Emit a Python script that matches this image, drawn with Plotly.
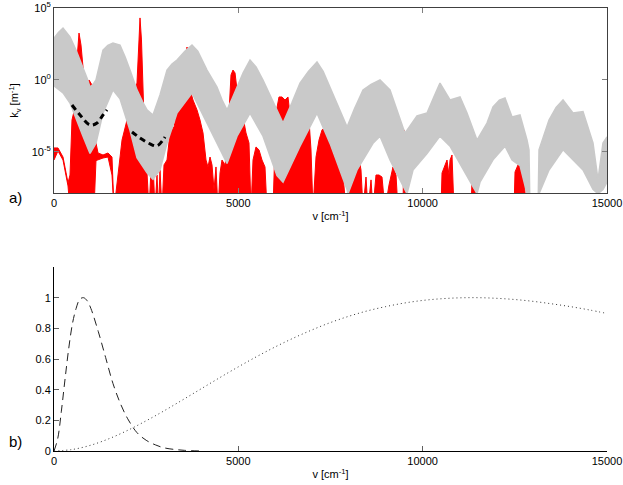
import plotly.graph_objects as go

# ---------------- panel a) data (log10 of k_v, read from picture) ----------------
gray_up_v = [0, 120, 244, 330, 434, 597, 787, 900, 977, 1060, 1139, 1240, 1329, 1460, 1600, 1790, 1930, 2061,
             2251, 2400, 2523, 2685, 2875, 3065, 3200, 3336, 3550, 3743, 3900, 4150, 4421, 4560, 4693, 4830,
             4964, 5130, 5317, 5480, 5669, 6049, 6212, 6450, 6673, 6900, 7134, 7300, 7487, 7720, 7948, 8150,
             8382, 8600, 8843, 9114, 9300, 9520, 9846, 10118, 10300, 10470, 10742, 11013, 11203, 11474, 11745,
             11908, 12080, 12233, 12425, 12640, 12830, 12884, 12910, 13130, 13156, 13427, 13620, 13807, 14078,
             14349, 14620, 14756, 14891, 15000]
gray_up = [2.9, 3.3, 3.61, 3.3, 2.99, 2.08, 0.90, 0.1, -0.49, -0.3, 0.0, 1.1, 2.08, 2.4, 2.57, 2.43, 1.6, 0.69,
           -0.69, -1.5, -2.08, -2.43, -1.04, 0.69, 1.1, 1.39, 2.0, 2.43, 2.0, 0.69, -0.49, -1.4, -2.08, -1.3,
           -0.49, 0.5, 1.39, 0.9, 0.0, -2.08, -2.99, -1.6, -0.21, 0.6, 1.25, 0.6, -0.49, -1.9, -3.26, -2.0,
           -0.69, -0.3, 0.0, -0.69, -2.0, -3.7, -2.5, -2.29, -1.2, -0.21, -1.39, -1.18, -2.29, -4.17, -2.99,
           -1.875, -1.4, -1.25, -2.57, -2.43, -4.17, -4.86, -9, -9, -4.86, -2.78, -1.9, -1.39, -2.29,
           -2.2, -4.375, -6.94, -4.375, -3.96]

gray_lo_v = [0, 244, 434, 597, 787, 977, 1139, 1329, 1600, 1790, 2061, 2251, 2523, 2685, 2875, 3065, 3336,
             3743, 4421, 4693, 4964, 5317, 5669, 6049, 6212, 6673, 7134, 7487, 7948, 7975, 8219, 8382, 8653,
             8843, 9114, 9575, 9738, 10118, 10470, 10742, 11203, 11474, 11555, 11745, 11908, 12233, 12425,
             12640, 12830, 12910, 13130, 13156, 13427, 13807, 14078, 14349, 14620, 14756, 14891, 15000]
gray_lo = [-0.4, -0.9, -1.6, -2.6, -3.9, -5.1, -4.4, -2.3, -0.7, -1.3, -3.5, -5.4, -6.45, -6.9, -6.25,
           -4.4, -2.3, -0.9, -4.4, -5.8, -3.9, -2.3, -3.9, -6.65, -7.1, -4.6, -2.3, -4.4, -7.6,
           -7.9, -6.25, -5.55, -4.4, -3.9, -5.55, -7.9, -6.25, -5.1, -3.9, -4.6, -6.65, -7.9, -7.1,
           -6.25, -5.55, -4.6, -5.55, -5.95, -7.9, -9, -9, -7.9, -6.25, -4.85, -5.55, -6.25, -7.6, -7.9,
           -7.6, -7.1]

red_v = [0, 108, 244, 380, 434, 488, 570, 624, 678, 732, 787, 868, 949, 1031, 1085, 1139, 1194, 1329, 1465,
         1573, 1628, 1709, 1790, 1845, 1980, 2116, 2251, 2306, 2333, 2373, 2414, 2468, 2523, 2577, 2631, 2685,
         2740, 2794, 2835, 2875, 2930, 2984, 3065, 3147, 3255, 3336, 3418, 3499, 3553, 3608, 3662, 3716, 3770,
         3879, 3960, 4042, 4123, 4177, 4232, 4286, 4340, 4394, 4449, 4503, 4557, 4638, 4693, 4747, 4801, 4855,
         4910, 4964, 5045, 5127, 5208, 5289, 5344, 5398, 5479, 5561, 5642, 5723, 5778, 5859, 5940, 6022, 6103,
         6185, 6266, 6347, 6429, 6510, 6591, 6673, 6754, 6836, 6917, 6971, 7025, 7107, 7188, 7270, 7351, 7432,
         7514, 7595, 7676, 7758, 7839, 7921, 8002, 8083, 8165, 8246, 8327, 8382, 8463, 8517, 8599, 8653, 8734,
         8816, 8897, 8978, 9087, 9195, 9277, 9331, 9467, 9494, 9548, 9602, 10497, 10525, 10606, 10660, 10714,
         10742, 10796, 10850, 11311, 11339, 11393, 11448, 11474, 12478, 12505, 12586, 12640, 12694, 12749,
         12803, 15000]
red_up = [-4.72, -4.72, -5.35, -7.15, -6.60, -2.78, -1.875, 1.39, 3.26, 2.43, 0.90, -0.69, 0.0, -0.35, -2.78,
          -4.375, -5.07, -5.21, -5.07, -5.35, -9, -7.29, -5.56, -4.17, -2.78, -1.39, -0.21, 2.78, 4.31, 2.78,
          -1.39, -4.86, -6.46, -9, -6.25, -5.76, -9, -6.60, -9, -6.25, -9, -5.90, -5.56, -3.68, -3.26, -2.29,
          -1.60, -1.18, 0.0, 2.29, 1.39, -0.90, -1.39, -2.08, -2.78, -3.68, -5.56, -6.04, -5.35, -5.90, -7.64,
          -6.04, -9, -6.46, -5.56, -5.90, -4.86, -1.74, 0.35, 0.69, 0.49, -0.69, -2.43, -2.57, -3.68, -4.375,
          -9, -5.56, -4.65, -4.86, -5.56, -6.04, -9, -9, -9, -2.29, -1.18, -1.18, -1.39, -1.18, -3.26, -4.86,
          -3.82, -3.68, -3.68, -2.99, -2.78, -4.86, -9, -5.35, -4.17, -3.47, -3.26, -3.68, -4.17, -5.07, -5.56,
          -5.56, -6.60, -9, -6.60, -5.56, -5.76, -5.07, -6.25, -9, -6.74, -9, -6.94, -9, -6.60, -6.60, -6.74,
          -9, -7.29, -6.04, -6.60, -9, -9, -3.47, -4.17, -9, -9, -6.46, -5.90, -5.56, -6.60, -5.56, -5.21, -9,
          -9, -6.94, -7.29, -7.64, -9, -9, -6.39, -5.90, -5.76, -5.42, -6.60, -9, -9]
red_lo = [-5.56, -4.93, -5.56, -7.36] + [-9] * 11 + [-5.6, -5.56, -5.42, -5.35, -6.60] + [-9] * (len(red_v) - 20)

black1_v = [488, 705, 977, 1166, 1329, 1438]
black1 = [-1.74, -2.43, -3.13, -2.99, -2.43, -2.08]
black2_v = [2116, 2333, 2604, 2794, 2957, 3011]
black2 = [-3.61, -4.03, -4.44, -4.58, -4.17, -3.96]

# ---------------- panel b) data ----------------
dash_v = [0, 100, 200, 300, 400, 500, 600, 700, 800, 900, 1000, 1200, 1400, 1600, 1800, 2000, 2250, 2500,
          2750, 3000, 3500, 4000]
dash_y = [0, 0.08, 0.26, 0.47, 0.67, 0.83, 0.93, 0.99, 1.0, 0.98, 0.93, 0.78, 0.61, 0.44, 0.31, 0.21, 0.12,
          0.07, 0.04, 0.02, 0.005, 0.0]
dot_v = [0, 500, 1000, 1500, 2000, 2500, 3000, 3500, 4000, 4500, 5000, 5500, 6000, 6500, 7000, 7500, 8000,
         8500, 9000, 9500, 10000, 10500, 11000, 11500, 12000, 12500, 13000, 13500, 14000, 14500, 15000]
dot_y = [0, 0.010, 0.038, 0.081, 0.135, 0.197, 0.264, 0.335, 0.407, 0.479, 0.549, 0.616, 0.679, 0.737, 0.790,
         0.838, 0.879, 0.914, 0.942, 0.965, 0.982, 0.993, 0.999, 1.0, 0.996, 0.988, 0.976, 0.960, 0.942, 0.921,
         0.897]

xticks = [0, 5000, 10000, 15000]
ytick_a = [1e-5, 1, 1e5]
ytick_a_text = ["10<sup>-5</sup>", "10<sup>0</sup>", "10<sup>5</sup>"]
ytick_b = [0, 0.2, 0.4, 0.6, 0.8, 1]
ytick_b_text = ["0", "0.2", "0.4", "0.6", "0.8", "1"]


def p10(a):
    return [10 ** v for v in a]


fig = go.Figure()

# red spectrum (underneath)
fig.add_trace(go.Scatter(x=red_v + red_v[::-1], y=p10(red_up + red_lo[::-1]),
                         fill="toself", fillcolor="#ff0000", mode="lines",
                         line=dict(color="#ff0000", width=1), xaxis="x", yaxis="y", hoverinfo="skip"))
# gray band (on top)
fig.add_trace(go.Scatter(x=gray_up_v + gray_lo_v[::-1], y=p10(gray_up + gray_lo[::-1]),
                         fill="toself", fillcolor="#c9c9c9", mode="lines",
                         line=dict(color="#c9c9c9", width=1.5), xaxis="x", yaxis="y", hoverinfo="skip"))
# black dashed
for bv, by in ((black1_v, black1), (black2_v, black2)):
    fig.add_trace(go.Scatter(x=bv, y=p10(by), mode="lines",
                             line=dict(color="black", width=3, dash="6px,4px", shape="spline"),
                             xaxis="x", yaxis="y"))

# panel b
fig.add_trace(go.Scatter(x=dash_v, y=dash_y, mode="lines",
                         line=dict(color="#222222", width=1, dash="8px,5px", shape="spline"),
                         xaxis="x2", yaxis="y2"))
fig.add_trace(go.Scatter(x=dot_v, y=dot_y, mode="lines",
                         line=dict(color="#333333", width=1, dash="1px,3px", shape="spline"),
                         xaxis="x2", yaxis="y2"))

font = dict(family="Liberation Sans, Arial, sans-serif", size=11, color="black")

fig.update_layout(
    width=623, height=485,
    margin=dict(l=54, r=16, t=8, b=34),
    paper_bgcolor="white", plot_bgcolor="white",
    showlegend=False, font=font, hovermode=False,
    xaxis=dict(domain=[0, 1], range=[0, 15000], tickvals=xticks, ticktext=[str(t) for t in xticks],
               ticks="inside", ticklen=5, tickcolor="#808080", showline=True, linecolor="#404040",
               mirror="ticks", showgrid=False, zeroline=False, anchor="y", automargin=False,
               title=dict(text="v [cm<sup>-1</sup>]", standoff=4, font=font)),
    yaxis=dict(domain=[0.5824, 1], type="log", range=[-7.85, 5], tickvals=ytick_a, ticktext=ytick_a_text,
               ticks="inside", ticklen=5, tickcolor="#808080", showline=True, linecolor="#404040",
               mirror="ticks", showgrid=False, zeroline=False, anchor="x", automargin=False,
               title=dict(text="k<sub>v</sub> [m<sup>-1</sup>]", standoff=10, font=font)),
    xaxis2=dict(domain=[0, 1], range=[0, 15000], tickvals=xticks, ticktext=[str(t) for t in xticks],
                ticks="inside", ticklen=5, tickcolor="#606060", showline=True, linecolor="black",
                showgrid=False, zeroline=False, anchor="y2", automargin=False,
                title=dict(text="v [cm<sup>-1</sup>]", standoff=4, font=font)),
    yaxis2=dict(domain=[0, 0.4153], range=[0, 1.2], tickvals=ytick_b, ticktext=ytick_b_text,
                ticks="inside", ticklen=5, tickcolor="#606060", showline=True, linecolor="black",
                showgrid=False, zeroline=False, anchor="x2", automargin=False),
    annotations=[
        dict(text="a)", x=-0.085, y=0.573, xref="paper", yref="paper", showarrow=False,
             font=dict(family="Liberation Sans, Arial, sans-serif", size=15, color="black")),
        dict(text="b)", x=-0.085, y=-0.002, xref="paper", yref="paper", showarrow=False,
             font=dict(family="Liberation Sans, Arial, sans-serif", size=15, color="black")),
    ],
)

fig.write_html("out.html", config={"displayModeBar": False},
               post_script="document.body.style.margin='0px';")
